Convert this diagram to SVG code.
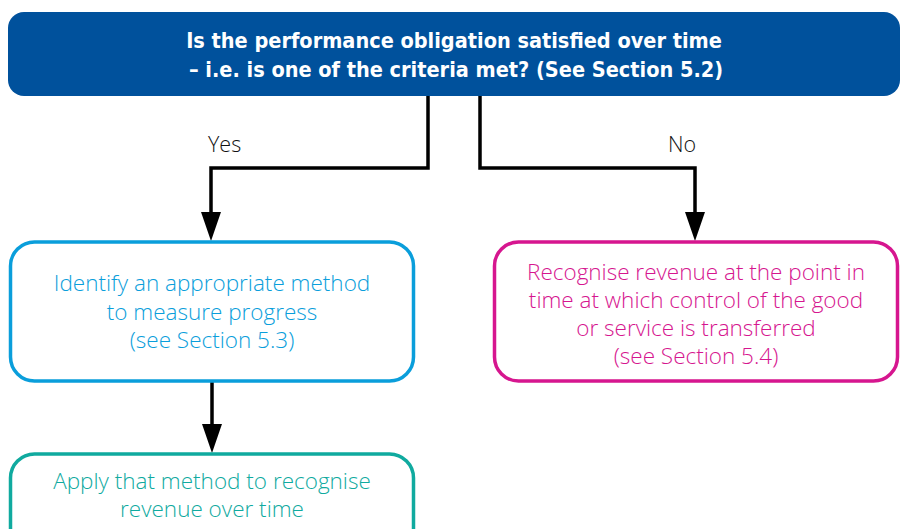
<svg xmlns="http://www.w3.org/2000/svg" width="903" height="529" viewBox="0 0 903 529">
<defs>
<style>
.box{fill:#fff;stroke-width:3.5}
.t{font-family:"Open Sans","Liberation Sans",sans-serif;font-weight:300;font-size:22.5px;text-anchor:middle}
.h{font-family:"Liberation Sans Narrow","DejaVu Sans Condensed","Liberation Sans",sans-serif;font-weight:bold;font-size:21.5px;text-anchor:middle;fill:#fff}
.c{fill:none;stroke:#000;stroke-width:3.5}
.lbl{font-family:"Open Sans","Liberation Sans",sans-serif;font-weight:300;font-size:21.5px;fill:#111}
</style>
</defs>
<g id="connectors">
<path class="c" d="M428,96 V168 H211 V212"/>
<path class="c" d="M480,96 V168 H695 V212"/>
<path class="c" d="M212,382 V424"/>
<path d="M201,212 L221,212 L211,241 Z"/>
<path d="M685,212 L705,212 L695,241 Z"/>
<path d="M202,424 L222,424 L212,453 Z"/>
<text class="lbl" x="208" y="152">Yes</text>
<text class="lbl" x="668" y="152">No</text>
</g>
<g id="top">
<rect x="8" y="12" width="892" height="84" rx="16" fill="#00519c"/>
<text class="h" x="454" y="48">Is the performance obligation satisfied over time</text>
<text class="h" x="456" y="77">– i.e. is one of the criteria met? (See Section 5.2)</text>
</g>
<g id="identify">
<rect class="box" x="10.5" y="242" width="403" height="139" rx="24" stroke="#0a9edb"/>
<text class="t" fill="#0a9edb"><tspan x="212" y="291">Identify an appropriate method</tspan><tspan x="212" y="320">to measure progress</tspan><tspan x="212" y="348">(see Section 5.3)</tspan></text>
</g>
<g id="recognise">
<rect class="box" x="494.5" y="242" width="403" height="139" rx="24" stroke="#d6168f"/>
<text class="t" fill="#d6168f"><tspan x="696" y="280">Recognise revenue at the point in</tspan><tspan x="696" y="308">time at which control of the good</tspan><tspan x="696" y="336">or service is transferred</tspan><tspan x="696" y="364">(see Section 5.4)</tspan></text>
</g>
<g id="apply">
<rect class="box" x="10.5" y="454" width="403" height="110" rx="24" stroke="#10aa9f"/>
<text class="t" fill="#10aa9f"><tspan x="212" y="489">Apply that method to recognise</tspan><tspan x="212" y="517">revenue over time</tspan></text>
</g>
</svg>
